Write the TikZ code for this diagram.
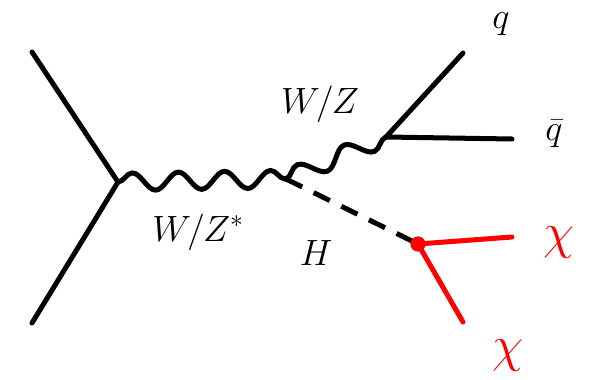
\RequirePackage{fix-cm}
\documentclass[tikz,border=0pt]{standalone}
\usepackage{amsmath, amssymb}
\usetikzlibrary{positioning, decorations.pathmorphing, calc}

\begin{document}
\begin{tikzpicture}[
  x=0.025cm, y=-0.025cm,
  fline/.style={line width=1.25mm, line cap=round},
  boson/.style={line width=1.25mm, decorate,
                decoration={snake, amplitude=0.22cm, segment length=#1}},
  scalar/.style={line width=1.25mm, dash pattern=on 0.45cm off 0.32cm},
  dmline/.style={fline, red},
  lbl/.style={font=\fontsize{26}{31}\selectfont, inner sep=0pt},
  chilbl/.style={lbl, red, font=\fontsize{36}{42}\selectfont},
]
  \useasboundingbox (0,0) rectangle (591,380);

  % Vertices
  \coordinate (v1) at (118,182);
  \coordinate (v2) at (286,179);
  \coordinate (v3) at (386,137);
  \coordinate (v4) at (418,244);

  % External legs
  \coordinate (in1) at (32,52);
  \coordinate (in2) at (32,323);
  \coordinate (q)   at (463,53);
  \coordinate (qb)  at (512,139);
  \coordinate (x1)  at (512,237);
  \coordinate (x2)  at (463,322);

  % Incoming partons
  \draw[fline] (in1) -- (v1) -- (in2);

  % Vector bosons
  \draw[boson=1.153cm] (v1) -- (v2);
  \draw[boson=1.270cm] (v2) -- (v3);

  % Quark pair
  \draw[fline] (q) -- (v3) -- (qb);

  % Higgs
  \draw[scalar] (v2) -- (v4);

  % Invisible decay
  \draw[dmline] (x1) -- (v4) -- (x2);
  \fill[red] (v4) circle (0.19cm);

  % Labels
  \node[lbl] (lq)  at (501,24)  {$q$};
  \node[lbl] (lqb) at (554,134) {$\bar{q}$};
  \node[lbl] (lwz) at (320,104) {$W/Z$};
  \node[lbl] (lws) at (198,232) {$W/Z^{*}$};
  \node[lbl] (lh)  at (316,253) {$H$};
  \node[chilbl] (lx1) at (559,243) {$\chi$};
  \node[chilbl] (lx2) at (508,356) {$\chi$};
\end{tikzpicture}
\end{document}
